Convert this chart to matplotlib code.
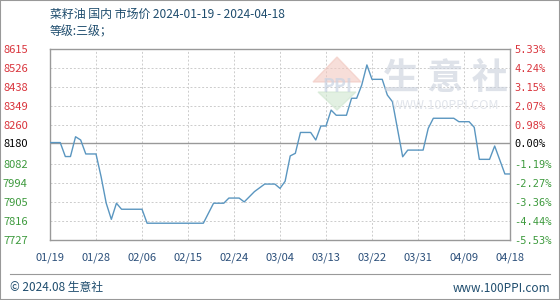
import matplotlib
matplotlib.use("Agg")
import matplotlib.pyplot as plt
import matplotlib.dates as mdates
import pandas as pd

plt.rcParams['font.family'] = ['Noto Sans CJK SC', 'DejaVu Sans']

# 价格拐点 (读取自原图)
dates = ["2024-01-19", "2024-01-21", "2024-01-22", "2024-01-23", "2024-01-24", "2024-01-25",
         "2024-01-26", "2024-01-28", "2024-01-29", "2024-01-30", "2024-01-31", "2024-02-01",
         "2024-02-02", "2024-02-06", "2024-02-07", "2024-02-18", "2024-02-20", "2024-02-22",
         "2024-02-23", "2024-02-25", "2024-02-26", "2024-02-28", "2024-03-01", "2024-03-03",
         "2024-03-04", "2024-03-05", "2024-03-06", "2024-03-07", "2024-03-08", "2024-03-10",
         "2024-03-11", "2024-03-12", "2024-03-13", "2024-03-14", "2024-03-15", "2024-03-17",
         "2024-03-18", "2024-03-19", "2024-03-20", "2024-03-21", "2024-03-22", "2024-03-24",
         "2024-03-25", "2024-03-26", "2024-03-28", "2024-03-29", "2024-04-01", "2024-04-02",
         "2024-04-03", "2024-04-07", "2024-04-08", "2024-04-10", "2024-04-11", "2024-04-12",
         "2024-04-14", "2024-04-15", "2024-04-17", "2024-04-18"]
prices = [8180, 8180, 8115, 8115, 8207, 8192,
          8127, 8127, 8021, 7898, 7823, 7898,
          7870, 7870, 7805, 7805, 7898, 7898,
          7922, 7922, 7904, 7952, 7987, 7987,
          7967, 8000, 8118, 8130, 8227, 8227,
          8192, 8257, 8257, 8331, 8307, 8307,
          8386, 8386, 8448, 8541, 8474, 8474,
          8401, 8370, 8114, 8145, 8145, 8246,
          8293, 8293, 8277, 8277, 8251, 8102,
          8102, 8164, 8034, 8034]

left_ticks = [7727, 7816, 7905, 7994, 8082, 8180, 8260, 8349, 8438, 8526, 8615]
right_labels = ["-5.53%", "-4.44%", "-3.36%", "-2.27%", "-1.19%", "0.00%",
                "0.98%", "2.07%", "3.15%", "4.24%", "5.33%"]
base_price = 8180

red = "#d9343c"
green = "#3d9a3d"
blue_txt = "#2b4f7a"

x = pd.to_datetime(dates)

fig = plt.figure(figsize=(5.6, 3.0), dpi=100)
ax = fig.add_axes([50 / 560, 1 - 240 / 300, 460 / 560, 191 / 300])

ax.plot(x, prices, color="#5a96c0", lw=1.0, zorder=3)
ax.axhline(base_price, color="#999999", lw=1.0, zorder=2)

ax.set_xlim(x[0], x[-1])
ax.set_ylim(left_ticks[0], left_ticks[-1])

# x 轴刻度
xt = pd.date_range("2024-01-19", "2024-04-18", freq="9D")
ax.set_xticks(xt)
ax.xaxis.set_major_formatter(mdates.DateFormatter("%m/%d"))
ax.set_yticks(left_ticks)
ax.set_yticklabels([str(v) for v in left_ticks])
ax.tick_params(axis="x", length=0, pad=9, labelsize=8, labelcolor=blue_txt)
ax.tick_params(axis="y", length=0, pad=16, labelsize=8)
for lab, v in zip(ax.get_yticklabels(), left_ticks):
    lab.set_color(red if v > base_price else ("black" if v == base_price else green))

ax.grid(True, color="#cccccc", ls=(0, (2, 2)), lw=0.7)
for s in ax.spines.values():
    s.set_color("#999999")
    s.set_linewidth(1.0)

# 右侧百分比
ax2 = ax.twinx()
ax2.set_ylim(ax.get_ylim())
ax2.set_yticks(left_ticks)
ax2.set_yticklabels(right_labels, family="DejaVu Sans Mono")
ax2.tick_params(axis="y", length=0, pad=3, labelsize=7.5)
for lab, v in zip(ax2.get_yticklabels(), left_ticks):
    lab.set_color(red if v > base_price else ("black" if v == base_price else green))
for s in ax2.spines.values():
    s.set_visible(False)

# 水印
fig.text(445 / 560, 1 - 78 / 300, "生 意 社", fontsize=26, color="#c8cfdb", alpha=0.6,
         ha="center", va="center", fontweight="bold", zorder=1)
fig.text(445 / 560, 1 - 106 / 300, "WWW.100PPI.COM", fontsize=9, color="#d5dae3", alpha=0.7,
         ha="center", va="center", zorder=1)
tri = plt.Polygon([[313 / 560, 1 - 82 / 300], [337 / 560, 1 - 57 / 300], [361 / 560, 1 - 82 / 300]],
                  closed=True, transform=fig.transFigure, color="#f2c8c0", alpha=0.6, zorder=1)
tri2 = plt.Polygon([[318 / 560, 1 - 92 / 300], [337 / 560, 1 - 110 / 300], [356 / 560, 1 - 92 / 300]],
                   closed=True, transform=fig.transFigure, color="#cfe6cf", alpha=0.6, zorder=1)
fig.add_artist(tri)
fig.add_artist(tri2)
fig.text(337 / 560, 1 - 87 / 300, "PPI", fontsize=13, color="#c8d3e3", alpha=0.7,
         ha="center", va="center", fontweight="bold")

# 标题
fig.text(50 / 560, 1 - 14 / 300, "菜籽油 国内 市场价 2024-01-19 - 2024-04-18", fontsize=8.6,
         color="#1f4d6e", ha="left", va="center")
fig.text(50 / 560, 1 - 32 / 300, "等级:三级；", fontsize=8.6, color="#1f4d6e", ha="left", va="center")

# 底部
fig.add_artist(plt.Line2D([10 / 560, 550 / 560], [1 - 274 / 300, 1 - 274 / 300],
                          transform=fig.transFigure, color="#999999", lw=0.8))
fig.text(10 / 560, 1 - 288 / 300, "© 2024.08 生意社", fontsize=8.5, color="#1f4d6e",
         ha="left", va="center")
fig.text(550 / 560, 1 - 288 / 300, "www.100PPI.com", fontsize=8.5, color="#1f4d6e",
         ha="right", va="center")
fig.add_artist(plt.Rectangle((0, 0), 1, 1, transform=fig.transFigure, fill=False,
                             edgecolor="#999999", lw=1.5))

fig.savefig("out.png", dpi=100)
